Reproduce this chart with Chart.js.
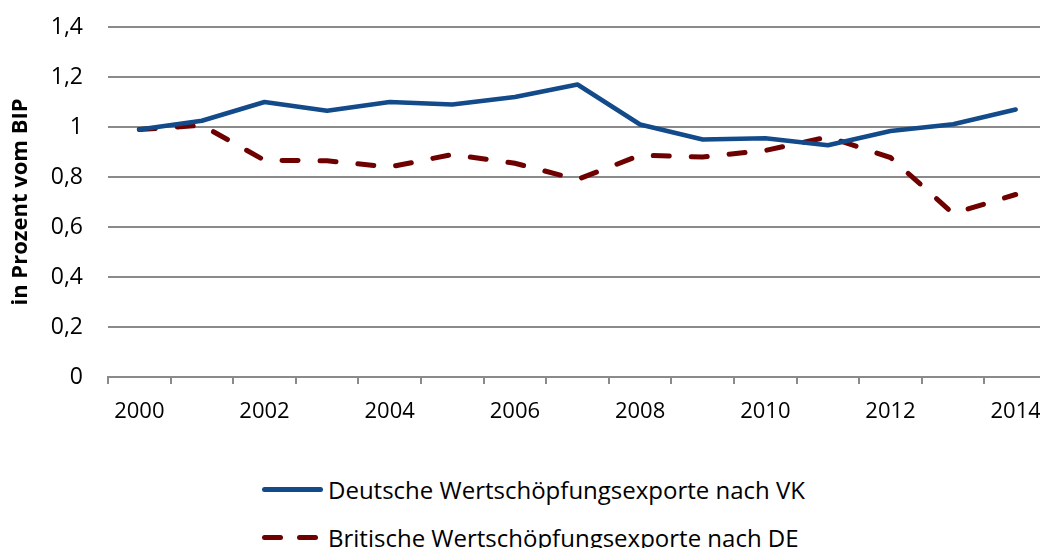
<!DOCTYPE html>
<html>
<head>
<meta charset="utf-8">
<script src="https://cdn.jsdelivr.net/npm/chart.js@4/dist/chart.umd.min.js"></script>
<style>
  html, body { margin: 0; padding: 0; background: #fff; }
  body { width: 1040px; height: 548px; overflow: hidden; position: relative; font-family: "Open Sans", sans-serif; }
  #wrap { position: absolute; left: 0; top: 0; width: 1060px; height: 440px; }
  .legend-row { position: absolute; left: 262px; height: 30px; display: flex; align-items: center; font-size: 24px; color: #000; white-space: nowrap; }
  .swatch { position: relative; width: 61px; height: 5px; margin-right: 5px; }
  .swatch span { position: absolute; top: 0; height: 5px; border-radius: 3px; }
</style>
</head>
<body>
<div id="wrap"><canvas id="grafico" width="1060" height="440"></canvas></div>
<div id="legend"></div>

<script>
// ===============================
//  DATI
// ===============================
const anni = ["2000", "2001", "2002", "2003", "2004", "2005", "2006", "2007",
              "2008", "2009", "2010", "2011", "2012", "2013", "2014"];

const deutscheExporte = [0.99, 1.025, 1.10, 1.065, 1.10, 1.09, 1.12, 1.17,
                         1.01, 0.95, 0.955, 0.927, 0.984, 1.011, 1.07];

const britischeExporte = [0.99, 1.007, 0.867, 0.865, 0.84, 0.89, 0.855, 0.79,
                          0.887, 0.88, 0.906, 0.96, 0.878, 0.654, 0.73];

const yTicks = [0, 0.2, 0.4, 0.6, 0.8, 1, 1.2, 1.4];

const labelDE = "Deutsche Wertschöpfungsexporte nach VK";
const labelUK = "Britische Wertschöpfungsexporte nach DE";

const BLU = "#124a8a";
const ROSSO = "#6e0000";
const GRIGIO = "#8a8a8a";
const FONT = "'Open Sans', sans-serif";

// ===============================
//  GRAFICO
// ===============================
const ctx = document.getElementById("grafico").getContext("2d");

new Chart(ctx, {
  type: "line",
  data: {
    labels: anni,
    datasets: [
      {
        label: labelDE,
        data: deutscheExporte,
        borderColor: BLU,
        borderWidth: 4.5,
        pointRadius: 0,
        tension: 0,
        borderCapStyle: "round",
        borderJoinStyle: "round"
      },
      {
        label: labelUK,
        data: britischeExporte,
        borderColor: ROSSO,
        borderWidth: 5,
        borderDash: [16, 22],
        borderCapStyle: "round",
        pointRadius: 0,
        tension: 0
      }
    ]
  },
  options: {
    responsive: false,
    animation: false,
    layout: { padding: { left: 0, right: 13, top: 27, bottom: 0 } },
    plugins: {
      legend: { display: false },
      tooltip: { enabled: false }
    },
    scales: {
      x: {
        type: "category",
        offset: true,
        afterFit: scale => { scale.height = 63; scale.paddingLeft = 0; scale.paddingRight = 0; },
        grid: {
          offset: true,
          drawOnChartArea: false,
          drawTicks: true,
          tickLength: 7,
          tickColor: GRIGIO,
          lineWidth: 2
        },
        border: { display: true, color: GRIGIO, width: 2 },
        ticks: {
          autoSkip: false,
          maxRotation: 0,
          padding: 15,
          color: "#000",
          font: { family: FONT, size: 22 },
          callback: (v, i) => (i % 2 === 0 ? anni[i] : "")
        }
      },
      y: {
        min: 0,
        max: 1.4,
        afterFit: scale => { scale.width = 108; scale.paddingTop = 0; scale.paddingBottom = 0; },
        afterBuildTicks: scale => { scale.ticks = yTicks.map(v => ({ value: v })); },
        grid: { color: GRIGIO, lineWidth: 2, drawTicks: false },
        border: { display: false },
        ticks: {
          padding: 25,
          color: "#000",
          font: { family: FONT, size: 23 },
          callback: v => String(Math.round(v * 10) / 10).replace(".", ",")
        },
        title: {
          display: true,
          text: "in Prozent vom BIP",
          color: "#000",
          font: { family: FONT, size: 22, weight: "bold" },
          padding: { top: 8, bottom: 0 }
        }
      }
    }
  }
});

// ===============================
//  LEGENDA
// ===============================
const legend = document.getElementById("legend");
[
  { label: labelDE, top: 474, pezzi: [[0, 61]], colore: BLU },
  { label: labelUK, top: 522, pezzi: [[0, 21], [35, 21]], colore: ROSSO }
].forEach(item => {
  const row = document.createElement("div");
  row.className = "legend-row";
  row.style.top = item.top + "px";
  const sw = document.createElement("div");
  sw.className = "swatch";
  item.pezzi.forEach(([x, w]) => {
    const s = document.createElement("span");
    s.style.left = x + "px";
    s.style.width = w + "px";
    s.style.background = item.colore;
    sw.appendChild(s);
  });
  row.appendChild(sw);
  const t = document.createElement("span");
  t.textContent = item.label;
  row.appendChild(t);
  legend.appendChild(row);
});
</script>
</body>
</html>
